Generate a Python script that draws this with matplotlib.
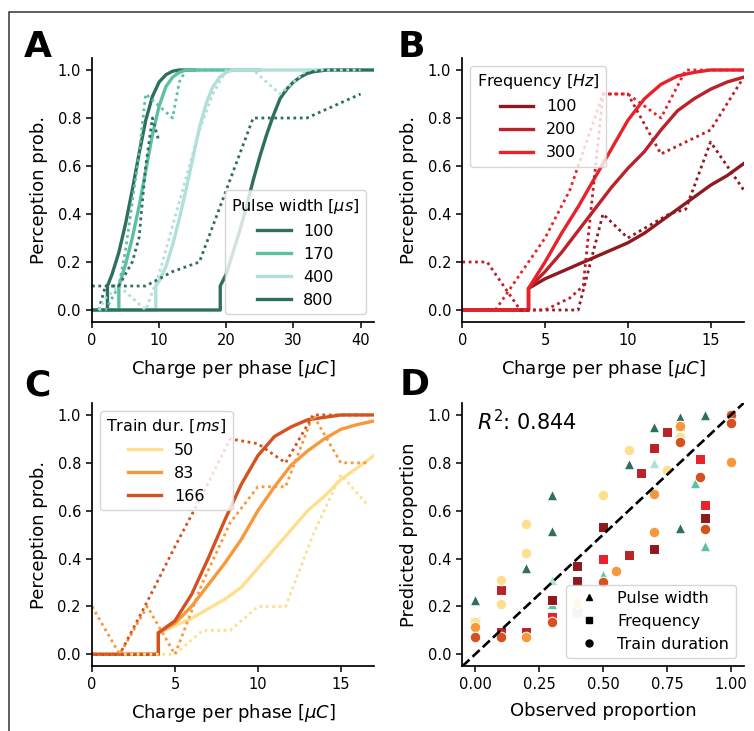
import matplotlib
matplotlib.use("Agg")
import matplotlib.pyplot as plt
from matplotlib.lines import Line2D
from matplotlib.patches import Rectangle

# ---------------- Panel A: pulse width ----------------
pw_labels = ["100", "170", "400", "800"]
pw_colors = ["#2e6f5e", "#5ec0a3", "#b0e0d7", "#2e6f5e"]

pw100_fit_x = [0, 2.3, 2.3, 3, 4, 5, 6, 7, 8, 9, 10, 11, 12, 13, 15.3]
pw100_fit_y = [0, 0, 0.10, 0.15, 0.24, 0.36, 0.50, 0.65, 0.79, 0.89, 0.95, 0.98, 0.995, 1.0, 1.0]
pw170_fit_x = [0, 4.0, 4.0, 5, 6, 7, 8, 9, 10, 11, 12, 13, 14, 16, 25]
pw170_fit_y = [0, 0, 0.10, 0.19, 0.30, 0.43, 0.58, 0.73, 0.85, 0.93, 0.97, 0.99, 1.0, 1.0, 1.0]
pw400_fit_x = [0, 9.5, 9.5, 10, 11, 12, 13, 14, 15, 16, 17, 18, 19, 20, 21, 40]
pw400_fit_y = [0, 0, 0.10, 0.12, 0.18, 0.27, 0.38, 0.50, 0.63, 0.76, 0.86, 0.93, 0.97, 0.99, 1.0, 1.0]
pw800_fit_x = [0, 19.1, 19.1, 20, 21, 22, 23, 24, 25, 26, 27, 28, 29, 30, 31, 32, 33, 35, 42]
pw800_fit_y = [0, 0, 0.10, 0.15, 0.24, 0.33, 0.43, 0.54, 0.64, 0.73, 0.81, 0.88, 0.92, 0.95, 0.97,
               0.985, 0.993, 1.0, 1.0]

pw100_obs_x = [1, 2, 3, 4, 5, 6, 7, 8, 9, 10]
pw100_obs_y = [0.0, 0.1, 0.1, 0.1, 0.15, 0.2, 0.3, 0.6, 0.8, 0.7]
pw170_obs_x = [1, 2, 3, 4, 5, 6, 7, 8, 10, 12, 13, 14, 16, 20]
pw170_obs_y = [0.0, 0.0, 0.05, 0.1, 0.25, 0.45, 0.65, 0.9, 0.85, 0.8, 0.95, 1.0, 1.0, 1.0]
pw400_obs_x = [1, 2, 4, 6, 8, 10, 12, 14, 16, 18, 20, 24, 28, 32, 36, 40]
pw400_obs_y = [0.0, 0.05, 0.1, 0.05, 0.0, 0.15, 0.35, 0.55, 0.75, 0.9, 1.0, 1.0, 0.9, 1.0, 1.0, 1.0]
pw800_obs_x = [0, 4, 8, 12, 16, 20, 24, 28, 32, 36, 40]
pw800_obs_y = [0.1, 0.1, 0.1, 0.16, 0.2, 0.5, 0.8, 0.8, 0.8, 0.85, 0.9]

# ---------------- Panel B: frequency ----------------
fr_labels = ["100", "200", "300"]
fr_colors = ["#8e1a1f", "#bb2129", "#e8212a"]

fr_fit_x = [0, 4, 4, 5, 6, 7, 8, 9, 10, 11, 12, 13, 14, 15, 16, 17]
fr100_fit_y = [0, 0, 0.09, 0.13, 0.16, 0.19, 0.22, 0.25, 0.28, 0.32, 0.37, 0.42, 0.47, 0.52, 0.56, 0.61]
fr200_fit_y = [0, 0, 0.09, 0.16, 0.24, 0.33, 0.42, 0.51, 0.59, 0.66, 0.75, 0.83, 0.88, 0.92, 0.95, 0.97]
fr300_fit_y = [0, 0, 0.09, 0.20, 0.32, 0.43, 0.55, 0.67, 0.79, 0.88, 0.94, 0.975, 0.99, 1.0, 1.0, 1.0]

fr100_obs_x = [3.5, 5, 7, 8.5, 10, 12.5, 13.5, 15, 17]
fr100_obs_y = [0.0, 0.0, 0.0, 0.4, 0.3, 0.4, 0.42, 0.7, 0.5]
fr200_obs_x = [0, 1.5, 3.5, 5, 6.5, 7.3, 8.5, 10, 12, 15, 17]
fr200_obs_y = [0.2, 0.2, 0.0, 0.0, 0.05, 0.1, 0.9, 0.9, 0.65, 0.75, 0.97]
fr300_obs_x = [2, 3.5, 5, 6.5, 8.5, 10, 12, 13.5, 15, 17]
fr300_obs_y = [0.0, 0.15, 0.3, 0.5, 0.9, 0.9, 0.8, 1.0, 1.0, 1.0]

# ---------------- Panel C: train duration ----------------
td_labels = ["50", "83", "166"]
td_colors = ["#fddf8e", "#f7993a", "#d3521f"]

td_fit_x = [0, 4, 4, 5, 6, 7, 8, 9, 10, 11, 12, 13, 14, 15, 16, 17]
td50_fit_y = [0, 0, 0.09, 0.12, 0.15, 0.19, 0.23, 0.28, 0.36, 0.44, 0.52, 0.60, 0.66, 0.73, 0.78, 0.83]
td83_fit_y = [0, 0, 0.09, 0.13, 0.20, 0.29, 0.38, 0.48, 0.60, 0.70, 0.79, 0.85, 0.90, 0.94, 0.96, 0.975]
td166_fit_y = [0, 0, 0.09, 0.14, 0.25, 0.40, 0.56, 0.71, 0.83, 0.91, 0.95, 0.98, 0.99, 1.0, 1.0, 1.0]

td_obs_x = [0, 1.67, 3.33, 5, 6.67, 8.33, 10, 11.67, 13.33, 15, 16.67]
td50_obs_y = [0.0, 0.0, 0.0, 0.0, 0.1, 0.1, 0.2, 0.2, 0.5, 0.75, 0.62]
td83_obs_y = [0.2, 0.0, 0.2, 0.0, 0.3, 0.55, 0.7, 0.7, 1.0, 0.8, 0.8]
td166_obs_y = [0.0, 0.0, 0.22, 0.45, 0.67, 0.9, 0.88, 0.8, 1.0, 1.0, 1.0]

# ---------------- Panel D: observed vs predicted ----------------
tri_dark_x = [0.0, 0.2, 0.3, 0.3, 0.6, 0.7, 0.8, 0.8, 0.9]
tri_dark_y = [0.227, 0.362, 0.666, 0.515, 0.795, 0.948, 0.993, 0.529, 1.0]
tri_teal_x = [0.3, 0.5, 0.86, 0.9]
tri_teal_y = [0.21, 0.33, 0.714, 0.453]
tri_light_x = [0.3, 0.7]
tri_light_y = [0.31, 0.80]

sq_dark_x = [0.3, 0.4, 0.4, 0.5, 0.7, 0.9]
sq_dark_y = [0.227, 0.37, 0.306, 0.531, 0.439, 0.568]
sq_mid_x = [0.1, 0.1, 0.2, 0.6, 0.65, 0.7, 0.75]
sq_mid_y = [0.27, 0.095, 0.095, 0.413, 0.757, 0.862, 0.93]
sq_bright_x = [0.3, 0.5, 0.8, 0.88, 0.9, 1.0]
sq_bright_y = [0.158, 0.398, 0.952, 0.815, 0.624, 1.0]
sq_faint_x = [0.0, 0.4]
sq_faint_y = [0.136, 0.178]

ci50_x = [0.0, 0.1, 0.1, 0.2, 0.2, 0.4, 0.5, 0.6, 0.75, 0.8]
ci50_y = [0.136, 0.31, 0.21, 0.545, 0.425, 0.215, 0.666, 0.854, 0.77, 0.91]
ci83_x = [0.0, 0.2, 0.55, 0.7, 0.7, 0.8, 1.0]
ci83_y = [0.116, 0.074, 0.35, 0.669, 0.511, 0.954, 0.802]
ci166_x = [0.0, 0.1, 0.3, 0.5, 0.8, 0.88, 0.9, 1.0, 1.0]
ci166_y = [0.071, 0.074, 0.136, 0.304, 0.889, 0.741, 0.525, 1.0, 0.967]

r2_text = "$R^2$: 0.844"

# ---------------- style ----------------
plt.rcParams["font.family"] = ["DejaVu Sans"]
plt.rcParams["axes.linewidth"] = 1.25
plt.rcParams["xtick.major.width"] = 1.1
plt.rcParams["ytick.major.width"] = 1.1
plt.rcParams["xtick.major.size"] = 4.5
plt.rcParams["ytick.major.size"] = 4.5
plt.rcParams["xtick.labelsize"] = 10.5
plt.rcParams["ytick.labelsize"] = 10.5
plt.rcParams["axes.labelsize"] = 13
plt.rcParams["axes.labelpad"] = 7.0
plt.rcParams["legend.fontsize"] = 11.5
plt.rcParams["legend.title_fontsize"] = 11.5
plt.rcParams["mathtext.fontset"] = "dejavusans"

LW = 2.4
DLW = 2.0
DOTS = (1, 1.3)

fig = plt.figure(figsize=(7.54, 7.31), dpi=100)
W, H = 754.0, 731.0

def axes_px(left, top, right, bottom):
    return fig.add_axes([left / W, 1 - bottom / H, (right - left) / W, (bottom - top) / H])

axA = axes_px(92, 58, 374, 322)
axB = axes_px(462.3, 58, 743.7, 322)
axC = axes_px(92, 403, 374, 666.3)
axD = axes_px(462.3, 403, 743.7, 666.3)

for ax in (axA, axB, axC, axD):
    ax.spines["top"].set_visible(False)
    ax.spines["right"].set_visible(False)
    ax.set_ylim(-0.05, 1.05)
    ax.set_yticks([0.0, 0.2, 0.4, 0.6, 0.8, 1.0])

xlabel = r"Charge per phase [$\mu C$]"

def dotted(ax, x, y, c):
    ax.plot(x, y, color=c, lw=DLW, ls=(0, DOTS))

# Panel A
fitsA = [(pw100_fit_x, pw100_fit_y), (pw170_fit_x, pw170_fit_y),
         (pw400_fit_x, pw400_fit_y), (pw800_fit_x, pw800_fit_y)]
obsA = [(pw100_obs_x, pw100_obs_y), (pw170_obs_x, pw170_obs_y),
        (pw400_obs_x, pw400_obs_y), (pw800_obs_x, pw800_obs_y)]
for (fx, fy), c in zip(fitsA, pw_colors):
    axA.plot(fx, fy, color=c, lw=LW)
for (ox, oy), c in zip(obsA, pw_colors):
    dotted(axA, ox, oy, c)
axA.set_xlim(0, 42)
axA.set_xticks([0, 10, 20, 30, 40])
axA.set_xlabel(xlabel)
axA.set_ylabel("Perception prob.")
hA = [Line2D([], [], color=c, lw=LW) for c in pw_colors]
axA.legend(hA, pw_labels, title=r"Pulse width [$\mu s$]", loc="lower right", handlelength=2.1)

# Panel B
fitsB = [fr100_fit_y, fr200_fit_y, fr300_fit_y]
obsB = [(fr100_obs_x, fr100_obs_y), (fr200_obs_x, fr200_obs_y), (fr300_obs_x, fr300_obs_y)]
for fy, c in zip(fitsB, fr_colors):
    axB.plot(fr_fit_x, fy, color=c, lw=LW)
for (ox, oy), c in zip(obsB, fr_colors):
    dotted(axB, ox, oy, c)
axB.set_xlim(0, 17)
axB.set_xticks([0, 5, 10, 15])
axB.set_xlabel(xlabel)
axB.set_ylabel("Perception prob.")
hB = [Line2D([], [], color=c, lw=LW) for c in fr_colors]
axB.legend(hB, fr_labels, title=r"Frequency [$Hz$]", loc="upper left", handlelength=2.1)

# Panel C
fitsC = [td50_fit_y, td83_fit_y, td166_fit_y]
obsC = [td50_obs_y, td83_obs_y, td166_obs_y]
for fy, c in zip(fitsC, td_colors):
    axC.plot(td_fit_x, fy, color=c, lw=LW)
for oy, c in zip(obsC, td_colors):
    dotted(axC, td_obs_x, oy, c)
axC.set_xlim(0, 17)
axC.set_xticks([0, 5, 10, 15])
axC.set_xlabel(xlabel)
axC.set_ylabel("Perception prob.")
hC = [Line2D([], [], color=c, lw=LW) for c in td_colors]
axC.legend(hC, td_labels, title=r"Train dur. [$ms$]", loc="upper left", handlelength=2.1)

# Panel D
S = 58
kw = dict(s=S, edgecolors="white", linewidths=0.75, zorder=2)
axD.scatter(tri_dark_x, tri_dark_y, marker="^", color=pw_colors[0], **kw)
axD.scatter(tri_teal_x, tri_teal_y, marker="^", color=pw_colors[1], **kw)
axD.scatter(tri_light_x, tri_light_y, marker="^", color=pw_colors[2], **kw)
axD.scatter(sq_faint_x, sq_faint_y, marker="s", color=fr_colors[0], alpha=0.25, **kw)
axD.scatter(sq_dark_x, sq_dark_y, marker="s", color=fr_colors[0], **kw)
axD.scatter(sq_mid_x, sq_mid_y, marker="s", color=fr_colors[1], **kw)
axD.scatter(sq_bright_x, sq_bright_y, marker="s", color=fr_colors[2], **kw)
axD.scatter(ci50_x, ci50_y, marker="o", color=td_colors[0], **kw)
axD.scatter(ci83_x, ci83_y, marker="o", color=td_colors[1], **kw)
axD.scatter(ci166_x, ci166_y, marker="o", color=td_colors[2], **kw)
axD.plot([-0.05, 1.05], [-0.05, 1.05], color="black", ls="--", lw=1.9, zorder=3)
axD.set_xlim(-0.05, 1.05)
axD.set_xticks([0.0, 0.25, 0.5, 0.75, 1.0])
axD.set_xticklabels(["0.00", "0.25", "0.50", "0.75", "1.00"])
axD.set_xlabel("Observed proportion")
axD.set_ylabel("Predicted proportion")
axD.text(0.052, 0.895, r2_text, transform=axD.transAxes, fontsize=15, va="baseline", ha="left")
hD = [Line2D([], [], marker=m, color="black", ls="", ms=5) for m in ("^", "s", "o")]
legD = axD.legend(hD, ["Pulse width", "Frequency", "Train duration"], loc="lower right")
legD.set_zorder(5)

# Panel letters
for lab, x, y in (("A", 24, 57), ("B", 398, 57), ("C", 24, 395), ("D", 400, 395)):
    fig.text(x / W, 1 - y / H, lab, fontsize=26, fontweight="bold", ha="left", va="baseline")

# Figure frame (top and left edges visible)
fig.add_artist(Rectangle((9 / W, -0.2), 2.0, 1.2 - 12 / H, transform=fig.transFigure,
                         fill=False, lw=1.1, ec="#333333"))

fig.savefig("out.png", dpi=100)
